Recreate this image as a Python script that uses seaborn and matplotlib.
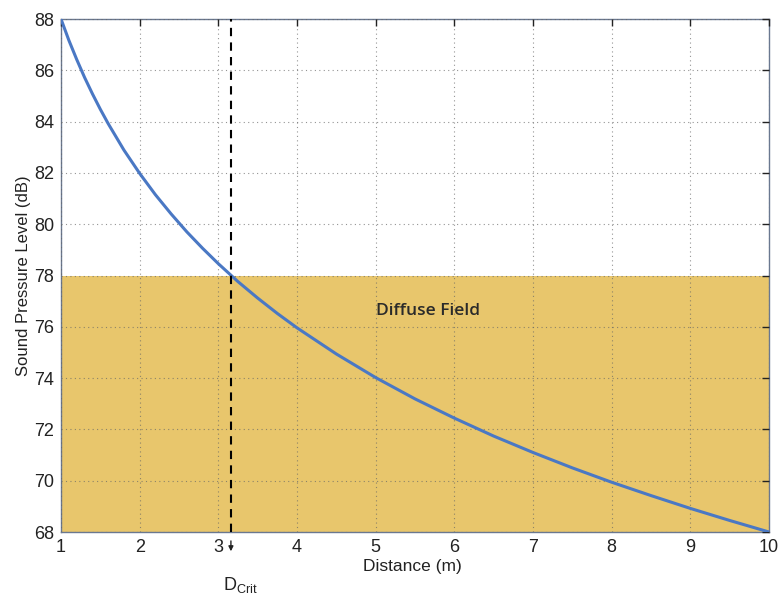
import matplotlib
matplotlib.use("Agg")
import matplotlib.pyplot as plt
import seaborn as sns
import pandas as pd

# Data
distance = [1.0, 1.1, 1.2, 1.3, 1.4, 1.5, 1.6, 1.8, 2.0, 2.2, 2.4, 2.6, 2.8, 3.0, 3.25,
            3.5, 3.75, 4.0, 4.5, 5.0, 5.5, 6.0, 6.5, 7.0, 7.5, 8.0, 8.5, 9.0, 9.5, 10.0]
spl = [88.0, 87.17, 86.42, 85.72, 85.08, 84.48, 83.92, 82.89, 81.98, 81.15, 80.40, 79.70,
       79.06, 78.46, 77.76, 77.12, 76.52, 75.96, 74.94, 74.02, 73.19, 72.44, 71.74, 71.10,
       70.50, 69.94, 69.42, 68.92, 68.45, 68.0]
d_crit = 3.16
diffuse_level = 78
xticks = [1, 2, 3, 4, 5, 6, 7, 8, 9, 10]
yticks = [68, 70, 72, 74, 76, 78, 80, 82, 84, 86, 88]

df = pd.DataFrame({"Distance (m)": distance, "Sound Pressure Level (dB)": spl})

sns.set_style("white")
plt.rcParams['font.family'] = ['Liberation Sans', 'DejaVu Sans']

fig = plt.figure(figsize=(7.81, 5.97), dpi=100)
ax = fig.add_axes([61/781, 1 - 532/597, 708/781, 513/597])

ax.axhspan(68, diffuse_level, color='#E8C66C', zorder=0, lw=0)
sns.lineplot(data=df, x="Distance (m)", y="Sound Pressure Level (dB)", ax=ax,
             color='#4A78C4', lw=2.2, zorder=3)
ax.axvline(d_crit, color='black', ls=(0, (4, 3)), lw=1.5, zorder=4)

ax.set_xlim(1, 10)
ax.set_ylim(68, 88)
ax.set_xticks(xticks)
ax.set_yticks(yticks)
ax.grid(True, ls=(0, (1, 3)), color='#666666', lw=0.8, alpha=0.7)
ax.set_axisbelow(False)
for s in ax.spines.values():
    s.set_color('#6a7890')
    s.set_linewidth(1.0)
    s.set_visible(True)
ax.tick_params(direction='in', length=5, width=1, top=True, right=True,
               labelsize=13, colors='#222222', pad=5)
ax.set_xlabel("Distance (m)", fontsize=12.5, color='#222222')
ax.xaxis.set_label_coords(0.496, -0.052)
ax.set_ylabel("Sound Pressure Level (dB)", fontsize=12, labelpad=2, color='#222222')

ax.text(428/781, 1 - 311/597, "Diffuse Field", transform=fig.transFigure,
        fontsize=12.5, family=['Open Sans', 'DejaVu Sans'], weight='semibold', color='#2a2a2a',
        ha='center', va='center')

# small arrow below axes at D_crit
ax.annotate('', xy=(d_crit, -0.043), xycoords=('data', 'axes fraction'),
            xytext=(d_crit, -0.012), textcoords=('data', 'axes fraction'),
            arrowprops=dict(arrowstyle='-|>', color='#222222', lw=1, mutation_scale=7),
            annotation_clip=False)
ax.text(d_crit + 0.12, -0.113, r"D$_{\mathregular{Crit}}$", transform=ax.get_xaxis_transform(),
        fontsize=13, ha='center', va='baseline', color='#222222')

fig.savefig("out.png", dpi=100)
